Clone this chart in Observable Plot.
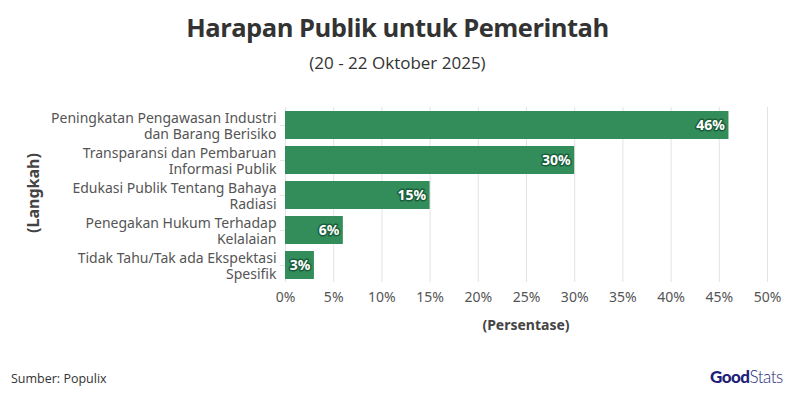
<!DOCTYPE html>
<html>
<head>
<meta charset="utf-8">
<script src="https://cdn.jsdelivr.net/npm/d3@7"></script>
<script src="https://cdn.jsdelivr.net/npm/@observablehq/plot@0.6"></script>
<style>
  body { margin: 0; background: #fff; width: 795px; height: 407px; position: relative; overflow: hidden; font-family: "Noto Sans", sans-serif; }
  #title { position: absolute; top: 10px; left: 0; width: 795px; text-align: center; font-family: "Open Sans", sans-serif; font-weight: 700; font-size: 25.5px; color: #333; letter-spacing: -0.5px; }
  #subtitle { position: absolute; top: 51px; left: 0; width: 795px; text-align: center; font-family: "Open Sans", sans-serif; font-size: 17px; color: #333; }
  #chart { position: absolute; top: 95px; left: 0; line-height: 0; }
  #chart svg { display: block; }
  #xlabel { position: absolute; top: 315px; left: 285px; width: 482px; text-align: center; font-family: "Noto Sans", sans-serif; font-weight: 700; font-size: 14px; color: #444; }
  #ylabel { position: absolute; left: 33px; top: 193px; transform: translate(-50%, -50%) rotate(-90deg); font-family: "Noto Sans", sans-serif; font-weight: 700; font-size: 16px; color: #444; white-space: nowrap; }
  #caption { position: absolute; top: 370px; left: 11px; font-family: "Open Sans", sans-serif; font-size: 12.5px; color: #333; }
  #logo { position: absolute; top: 366px; left: 710px; font-family: "Lato", sans-serif; font-size: 17px; color: #1f1f7a; letter-spacing: -0.5px; }
  #logo b { font-weight: 900; }
  #logo span { font-weight: 300; }
</style>
</head>
<body>
<div id="title">Harapan Publik untuk Pemerintah</div>
<div id="subtitle">(20 - 22 Oktober 2025)</div>
<div id="chart"></div>
<div id="xlabel">(Persentase)</div>
<div id="ylabel">(Langkah)</div>
<div id="caption">Sumber: Populix</div>
<div id="logo"><b>Good</b><span>Stats</span></div>
<script>
const categories = [
  "Peningkatan Pengawasan Industri\ndan Barang Berisiko",
  "Transparansi dan Pembaruan\nInformasi Publik",
  "Edukasi Publik Tentang Bahaya\nRadiasi",
  "Penegakan Hukum Terhadap\nKelalaian",
  "Tidak Tahu/Tak ada Ekspektasi\nSpesifik"
];
const values = [46, 30, 15, 6, 3];
const xTicks = [0, 5, 10, 15, 20, 25, 30, 35, 40, 45, 50];

const data = categories.map((c, i) => ({cat: c, val: values[i]}));

const chart = Plot.plot({
  width: 795,
  height: 250,
  marginLeft: 285,
  marginRight: 28,
  marginTop: 12,
  marginBottom: 63,
  style: {fontFamily: "'Noto Sans', sans-serif", fontSize: "14px", color: "#555"},
  x: {domain: [0, 50]},
  y: {domain: categories, paddingInner: 0.2, paddingOuter: 0.1},
  marks: [
    Plot.gridX(xTicks, {stroke: "#e3e3e3", strokeOpacity: 1}),
    Plot.axisX(xTicks, {tickFormat: d => d + "%", tickSize: 0, tickPadding: 10, label: null, fontSize: 14}),
    Plot.axisY({tickSize: 5, tickPadding: 4, label: null, stroke: "#e3e3e3", fontSize: 14, lineHeight: 1.15}),
    Plot.barX(data, {x: "val", y: "cat", fill: "#2e8b57", fillOpacity: 0.98}),
    Plot.text(data, {x: "val", y: "cat", text: d => d.val + "%", textAnchor: "end", dx: -4, fill: "white", stroke: "#1b5e3a", strokeWidth: 3, fontWeight: "bold", fontSize: 14})
  ]
});
document.getElementById("chart").appendChild(chart);
</script>
</body>
</html>
